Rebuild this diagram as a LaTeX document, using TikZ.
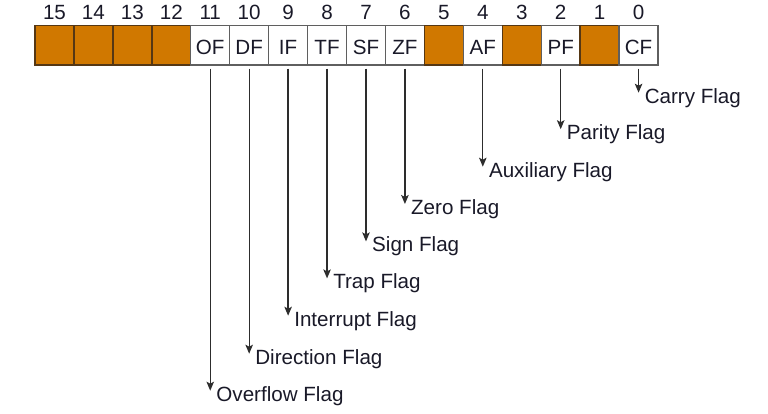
\documentclass[tikz,border=0pt]{standalone}
\usepackage{fontspec}
\setmainfont{Liberation Sans}
\usetikzlibrary{arrows.meta}
\definecolor{reserved}{RGB}{208,120,0}
\definecolor{resborder}{RGB}{85,55,20}
\definecolor{cellborder}{RGB}{95,95,95}
\definecolor{ink}{RGB}{25,25,40}
\definecolor{arrowink}{RGB}{45,45,45}
\tikzset{
  cell/.style={draw=cellborder, line width=1.4pt, minimum width=38.94pt, minimum height=39.3pt,
    inner sep=0pt, text height=18pt, text depth=0pt, font=\fontsize{20.6}{23}\selectfont, text=ink},
  rescell/.style={cell, fill=reserved, draw=resborder},
  bitnum/.style={anchor=base, inner sep=0pt, font=\fontsize{20.6}{23}\selectfont, text=ink},
  flaglabel/.style={anchor=base west, inner sep=0pt, font=\fontsize{20.6}{23}\selectfont, text=ink},
  flagarrow/.style={draw=arrowink, line width=1.3pt, -{Stealth[length=9pt,width=7.5pt,inset=2pt]}}
}
\begin{document}
\begin{tikzpicture}[x=1pt,y=-1pt]
\useasboundingbox (0,0) rectangle (768,413);
% cells
\foreach \b/\t/\s in {15//rescell,14//rescell,13//rescell,12//rescell,11/OF/cell,10/DF/cell,9/IF/cell,8/TF/cell,7/SF/cell,6/ZF/cell,5//rescell,4/AF/cell,3//rescell,2/PF/cell,1//rescell,0/CF/cell}{
  \node[\s] (c\b) at ({35+38.94*(15-\b)+19.47},45.35) {\t};
  \node[bitnum] (n\b) at ({35+38.94*(15-\b)+19.47},19.3) {\b};
}
% labels and arrows
\foreach \b/\tip/\lab in {0/92/Carry Flag,2/128.5/Parity Flag,4/166/Auxiliary Flag,6/203.3/Zero Flag,7/240.7/Sign Flag,8/277.7/Trap Flag,9/315/Interrupt Flag,10/353/Direction Flag,11/390/Overflow Flag}{
  \path (c\b.south) ++(0,{\tip-65}) coordinate (t\b);
  \node[flaglabel] (l\b) at ([xshift=6pt,yshift=-10.5pt]t\b) {\lab};
  \draw[flagarrow] ([yshift=-3pt]c\b.south) -- (t\b);
}
\end{tikzpicture}
\end{document}
